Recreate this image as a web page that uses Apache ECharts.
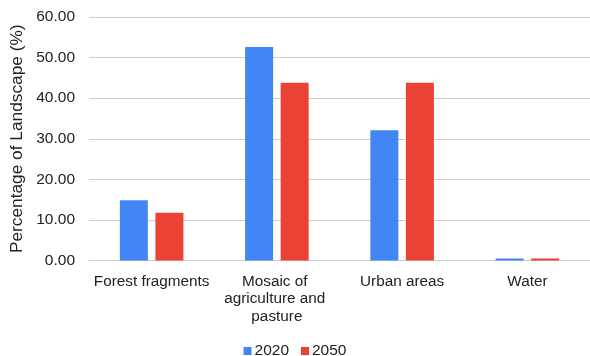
<!DOCTYPE html>
<html>
<head>
<meta charset="utf-8">
<script src="https://cdn.jsdelivr.net/npm/echarts@6/dist/echarts.min.js"></script>
<style>
  html, body { margin: 0; padding: 0; background: #fff; }
  #chart { width: 590px; height: 356px; }
</style>
</head>
<body>
<div id="chart"></div>
<script>
// Land cover categories and their share of the landscape (%)
const categories = ['Forest fragments', 'Mosaic of agriculture and pasture', 'Urban areas', 'Water'];
const values2020 = [14.85, 52.6, 32.1, 0.5];
const values2050 = [11.75, 43.8, 43.8, 0.5];
const seriesNames = ['2020', '2050'];
const yTicks = { min: 0, max: 60, interval: 10 };

const font = 'Liberation Sans, Arial, sans-serif';
const textColor = '#222222';

const chart = echarts.init(document.getElementById('chart'), null, { renderer: 'canvas' });

chart.setOption({
  animation: false,
  backgroundColor: '#ffffff',
  textStyle: { fontFamily: font },
  grid: { left: 89, right: -3, top: 17, bottom: 95.5, containLabel: false },
  legend: {
    data: seriesNames,
    top: 338,
    left: 'center',
    itemWidth: 8,
    itemHeight: 8,
    itemGap: 12,
    icon: 'rect',
    textStyle: { fontFamily: font, fontSize: 15.5, color: textColor, padding: [0, 0, 0, -2] }
  },
  xAxis: {
    type: 'category',
    data: categories,
    axisTick: { show: false },
    axisLine: { show: true, lineStyle: { color: '#cccccc', width: 1 } },
    axisLabel: {
      fontFamily: font,
      fontSize: 15.3,
      color: textColor,
      margin: 12,
      width: 120,
      overflow: 'break',
      lineHeight: 17.7,
      interval: 0
    }
  },
  yAxis: {
    type: 'value',
    min: yTicks.min,
    max: yTicks.max,
    interval: yTicks.interval,
    name: 'Percentage of Landscape (%)',
    nameLocation: 'middle',
    nameGap: 62,
    nameTextStyle: { fontFamily: font, fontSize: 17.3, color: textColor },
    axisLine: { show: false },
    axisTick: { show: false },
    axisLabel: {
      fontFamily: font,
      fontSize: 15.5,
      color: textColor,
      margin: 14,
      formatter: v => v.toFixed(2)
    },
    splitLine: { lineStyle: { color: '#cccccc', width: 1 } }
  },
  series: [
    {
      name: seriesNames[0],
      type: 'bar',
      data: values2020,
      barWidth: 28,
      barGap: '27%',
      itemStyle: { color: '#4285F4' }
    },
    {
      name: seriesNames[1],
      type: 'bar',
      data: values2050,
      barWidth: 28,
      itemStyle: { color: '#EA4335' }
    }
  ]
});
</script>
</body>
</html>
